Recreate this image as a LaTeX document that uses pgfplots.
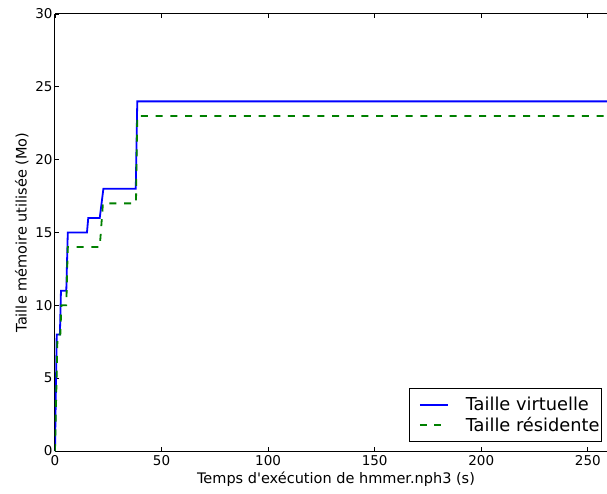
\documentclass[border=0pt]{standalone}
\usepackage{fontspec}
\setmainfont{DejaVu Sans}
\usepackage{pgfplots}
\pgfplotsset{compat=1.18}
\definecolor{mplblue}{RGB}{0,0,255}
\definecolor{mplgreen}{RGB}{0,128,0}
\begin{document}
\begin{tikzpicture}
\begin{axis}[
  scale only axis,
  width=552pt, height=437pt,
  xmin=0, xmax=259, ymin=0, ymax=30,
  axis x line*=box, axis y line*=left,
  xtick={0,50,100,150,200,250},
  ytick={0,5,10,15,20,25,30},
  xtick pos=both, ytick pos=left,
  tick align=inside,
  major tick length=4pt,
  tick style={black, line width=0.8pt},
  axis line style={black, line width=1pt},
  /pgf/number format/assume math mode=true,
  ticklabel style={font=\fontsize{13.5}{16}\selectfont},
  xticklabel style={yshift=-1pt},
  yticklabel style={xshift=1pt},
  xlabel={Temps d\textquotesingle exécution de hmmer.nph3 (s)},
  ylabel={Taille mémoire utilisée (Mo)},
  label style={font=\fontsize{14.5}{17}\selectfont},
  xlabel style={yshift=1pt, xshift=5pt},
  ylabel style={yshift=0pt},
  legend style={at={(rel axis cs:1,0)}, anchor=south east, xshift=-5pt, yshift=9pt,
    draw=black, line width=0.8pt, fill=white, rounded corners=0pt,
    font=\fontsize{17.8}{21}\selectfont, inner xsep=0pt, inner ysep=6.5pt,
    row sep=1pt, cells={anchor=west}},
  legend cell align=left,
  legend image code/.code={\draw[#1, line width=2pt] (10pt,0pt) -- (38pt,0pt); \path[draw=none] (0pt,0pt) -- (54pt,0pt);},
]
\addplot[mplblue, line width=1.8pt] coordinates {
(0,0) (0.8,8) (2.3,8) (2.8,11) (5.3,11) (6,15) (15,15) (15.6,16) (21,16) (22.7,18) (37.9,18) (38.6,24) (259,24)
};
\addlegendentry{Taille virtuelle}
\addplot[mplgreen, line width=1.8pt, dash pattern=on 7pt off 7.7pt] coordinates {
(0,0) (1.2,8) (2.5,8) (3,10) (5.3,10) (6,14) (21,14) (22.5,17) (38,17) (38.6,23) (259,23)
};
\addlegendentry{Taille résidente}
\end{axis}
\pgfresetboundingbox
\path (current axis.south west) ++(-55pt,-42pt) coordinate (bl);
\path (current axis.north east) ++(0pt,14pt) coordinate (tr);
\useasboundingbox (bl) rectangle (tr);
\end{tikzpicture}
\end{document}
